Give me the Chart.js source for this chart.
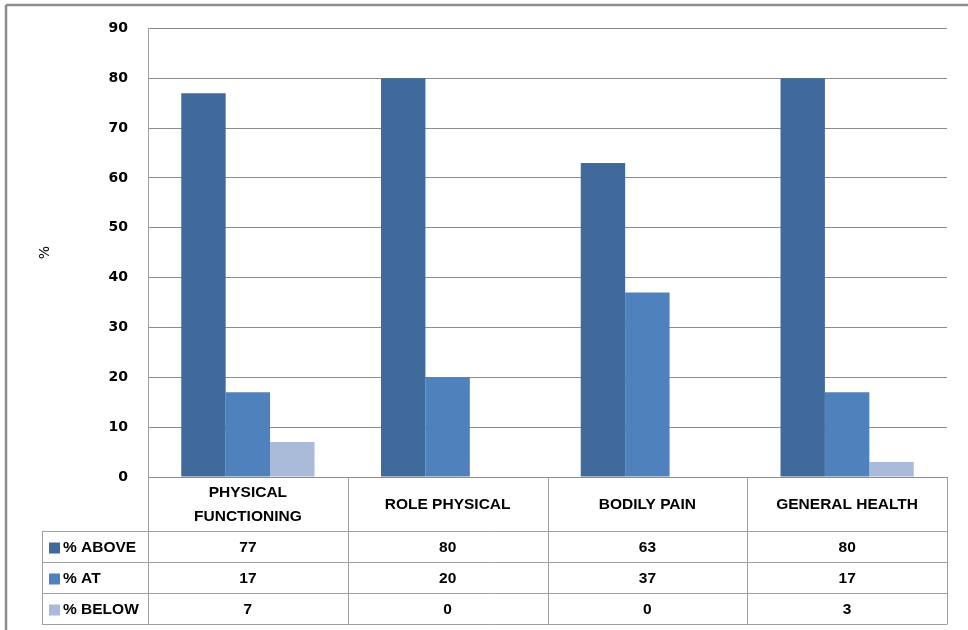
<!DOCTYPE html>
<html>
<head>
<meta charset="utf-8">
<script src="https://cdn.jsdelivr.net/npm/chart.js@4/dist/chart.umd.min.js"></script>
<style>
  html, body { margin: 0; padding: 0; background: #fff; }
  #wrap { width: 968px; height: 630px; position: relative; }
</style>
</head>
<body>
<div id="wrap"><canvas id="c" width="968" height="630"></canvas></div>
<script>
const categories = [["PHYSICAL", "FUNCTIONING"], ["ROLE PHYSICAL"], ["BODILY PAIN"], ["GENERAL HEALTH"]];
const seriesNames = ["% ABOVE", "% AT", "% BELOW"];
const above = [77, 80, 63, 80];
const at = [17, 20, 37, 17];
const below = [7, 0, 0, 3];
const yTicks = [0, 10, 20, 30, 40, 50, 60, 70, 80, 90];
const colors = ["#406A9C", "#4F81BD", "#AABAD9"];

const seriesValues = [above, at, below];

const tablePlugin = {
  id: 'dataTable',
  beforeDraw(chart) {
    const ctx = chart.ctx;
    ctx.save();
    ctx.fillStyle = '#fff';
    ctx.fillRect(0, 0, chart.width, chart.height);
    ctx.strokeStyle = '#8c8c8c';
    ctx.lineWidth = 2.5;
    ctx.beginPath();
    ctx.moveTo(6, 5); ctx.lineTo(chart.width, 5);
    ctx.moveTo(6, 5); ctx.lineTo(6, chart.height);
    ctx.stroke();
    ctx.restore();
  },
  afterDraw(chart) {
    const ctx = chart.ctx;
    const x = chart.scales.x;
    const area = chart.chartArea;
    const n = categories.length;
    const catW = (area.right - area.left) / n;
    const headerTop = area.bottom;
    const headerH = 54;
    const rowH = 31;
    const legendLeft = 42;
    const rowsTop = headerTop + headerH;
    const tableBottom = rowsTop + rowH * seriesNames.length;
    ctx.save();
    ctx.strokeStyle = '#a0a0a0';
    ctx.lineWidth = 1;
    ctx.beginPath();
    for (let i = 0; i <= n; i++) {
      const xx = Math.round(area.left + i * catW) + 0.5;
      ctx.moveTo(xx, headerTop); ctx.lineTo(xx, tableBottom);
    }
    ctx.moveTo(legendLeft + 0.5, rowsTop); ctx.lineTo(legendLeft + 0.5, tableBottom);
    for (let r = 0; r <= seriesNames.length; r++) {
      const yy = Math.round(rowsTop + r * rowH) + 0.5;
      ctx.moveTo(legendLeft, yy); ctx.lineTo(Math.round(area.right) + 0.5, yy);
    }
    ctx.stroke();

    ctx.fillStyle = '#000';
    ctx.font = 'bold 15.5px "Liberation Sans", Arial, sans-serif';
    ctx.textAlign = 'center';
    ctx.textBaseline = 'middle';
    categories.forEach((lines, i) => {
      const cx = x.getPixelForValue(i);
      const midY = headerTop + headerH / 2 + 1;
      const lh = 24;
      lines.forEach((t, k) => {
        ctx.fillText(t, cx, midY + (k - (lines.length - 1) / 2) * lh);
      });
    });
    seriesNames.forEach((name, r) => {
      const cy = rowsTop + r * rowH + rowH / 2 + 1;
      ctx.fillStyle = colors[r];
      ctx.fillRect(legendLeft + 7, cy - 5, 11, 11);
      ctx.fillStyle = '#000';
      ctx.textAlign = 'left';
      ctx.fillText(name, legendLeft + 21, cy);
      ctx.textAlign = 'center';
      seriesValues[r].forEach((v, i) => {
        ctx.fillText(String(v), x.getPixelForValue(i), cy);
      });
    });
    ctx.restore();
  }
};

new Chart(document.getElementById('c'), {
  type: 'bar',
  data: {
    labels: categories.map(l => l.join(' ')),
    datasets: seriesNames.map((name, i) => ({
      label: name,
      data: seriesValues[i],
      backgroundColor: colors[i],
      borderWidth: 0,
      categoryPercentage: 0.667,
      barPercentage: 1.0
    }))
  },
  options: {
    responsive: false,
    animation: false,
    layout: { padding: { left: 33, top: 28, right: 21, bottom: 153 } },
    plugins: { legend: { display: false }, tooltip: { enabled: false } },
    scales: {
      x: { display: false },
      y: {
        min: 0, max: 90,
        afterBuildTicks(scale) { scale.ticks = yTicks.map(v => ({ value: v })); },
        afterFit(scale) { scale.width = 148 - 33; },
        border: { display: true, color: '#a0a0a0', width: 1 },
        grid: { color: '#8c8c8c', lineWidth: 1, drawTicks: false },
        ticks: {
          padding: 20,
          color: '#000',
          font: { family: '"DejaVu Sans", Verdana, sans-serif', size: 14, weight: 'bold' }
        },
        title: {
          display: true,
          text: '%',
          color: '#000',
          padding: { top: 4, bottom: 0 },
          font: { family: '"DejaVu Sans", Verdana, sans-serif', size: 14, weight: 'normal' }
        }
      }
    }
  },
  plugins: [tablePlugin]
});
</script>
</body>
</html>
